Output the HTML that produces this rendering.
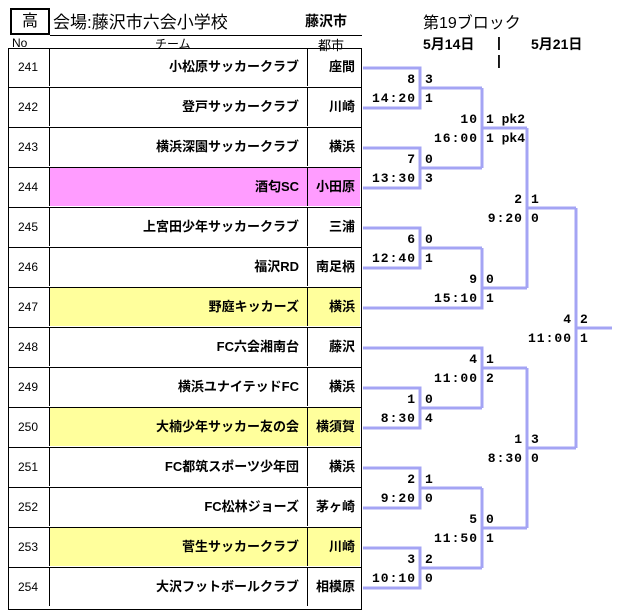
<!DOCTYPE html>
<html><head><meta charset="utf-8"><style>
body{margin:0;width:619px;height:613px;background:#fff;position:relative;overflow:hidden;font-family:"Liberation Sans","Noto Sans CJK JP",sans-serif;}
.a{position:absolute;white-space:nowrap;}
.r{position:absolute;left:8px;width:354px;height:40px;border-bottom:1.5px solid #000;box-sizing:border-box;}
.r div{position:absolute;top:0;height:38px;line-height:38px;font-size:13px;}
.n{left:0;width:40px;text-align:center;font-size:12px!important;}
.t{left:41px;text-align:right;padding-right:8px;font-weight:bold;border-left:1.5px solid #000;border-right:1.5px solid #000;box-sizing:border-box;width:259px;}
.c{left:300px;width:52px;text-align:right;padding-right:5px;font-weight:bold;box-sizing:border-box;}
.pk{background:#ff9cff}.yl{background:#ffff9c}
.l{font-family:"Liberation Mono","Noto Sans CJK JP",monospace;font-weight:bold;font-size:13px;letter-spacing:1px;}
</style></head><body>
<div class="a" style="left:10px;top:8px;width:36px;height:23px;border:2px solid #000;text-align:center;font-size:16px;line-height:23px;">高</div>
<div class="a" style="left:53px;top:8px;font-size:17px;">会場:藤沢市六会小学校</div>
<div class="a" style="left:305px;top:11px;font-size:14px;font-weight:bold;">藤沢市</div>
<div class="a" style="left:50px;top:35px;width:312px;border-top:1.5px solid #000;"></div>
<div class="a" style="left:423px;top:9px;font-size:16px;">第19ブロック</div>
<div class="a" style="left:12px;top:36px;font-size:12px;">No</div>
<div class="a" style="left:155px;top:35px;font-size:12px;">チーム</div>
<div class="a" style="left:318px;top:35px;font-size:13px;">都市</div>
<div class="a" style="left:423px;top:34px;font-size:14px;font-weight:bold;">5月14日</div>
<div class="a" style="left:497px;top:34px;font-size:14px;font-weight:bold;">|</div>
<div class="a" style="left:531px;top:34px;font-size:14px;font-weight:bold;">5月21日</div>
<div class="a" style="left:497px;top:52px;font-size:14px;font-weight:bold;">|</div>
<div class="r" style="top:48px"><div class="n">241</div><div class="t">小松原サッカークラブ</div><div class="c">座間</div></div>
<div class="r" style="top:88px"><div class="n">242</div><div class="t">登戸サッカークラブ</div><div class="c">川崎</div></div>
<div class="r" style="top:128px"><div class="n">243</div><div class="t">横浜深園サッカークラブ</div><div class="c">横浜</div></div>
<div class="r" style="top:168px"><div class="n">244</div><div class="t pk">酒匂SC</div><div class="c pk">小田原</div></div>
<div class="r" style="top:208px"><div class="n">245</div><div class="t">上宮田少年サッカークラブ</div><div class="c">三浦</div></div>
<div class="r" style="top:248px"><div class="n">246</div><div class="t">福沢RD</div><div class="c">南足柄</div></div>
<div class="r" style="top:288px"><div class="n">247</div><div class="t yl">野庭キッカーズ</div><div class="c yl">横浜</div></div>
<div class="r" style="top:328px"><div class="n">248</div><div class="t">FC六会湘南台</div><div class="c">藤沢</div></div>
<div class="r" style="top:368px"><div class="n">249</div><div class="t">横浜ユナイテッドFC</div><div class="c">横浜</div></div>
<div class="r" style="top:408px"><div class="n">250</div><div class="t yl">大楠少年サッカー友の会</div><div class="c yl">横須賀</div></div>
<div class="r" style="top:448px"><div class="n">251</div><div class="t">FC都筑スポーツ少年団</div><div class="c">横浜</div></div>
<div class="r" style="top:488px"><div class="n">252</div><div class="t">FC松林ジョーズ</div><div class="c">茅ヶ崎</div></div>
<div class="r" style="top:528px"><div class="n">253</div><div class="t yl">菅生サッカークラブ</div><div class="c yl">川崎</div></div>
<div class="r" style="top:568px;border-bottom:none"><div class="n">254</div><div class="t">大沢フットボールクラブ</div><div class="c">相模原</div></div>
<div class="a" style="left:8px;top:48px;width:354px;height:562px;border:1.5px solid #000;box-sizing:border-box;"></div>
<svg class="a" style="left:0;top:0" width="619" height="613">
<g fill="none" stroke="#a4a4f4" stroke-width="3">
<polyline points="363,68 420,68 420,108 363,108"/><line x1="420" y1="88" x2="482" y2="88"/>
<polyline points="363,148 420,148 420,188 363,188"/><line x1="420" y1="168" x2="482" y2="168"/>
<polyline points="482,88 482,168"/><line x1="482" y1="128" x2="527" y2="128"/>
<polyline points="363,228 420,228 420,268 363,268"/><line x1="420" y1="248" x2="482" y2="248"/>
<polyline points="363,308 482,308 482,248"/><line x1="482" y1="288" x2="527" y2="288"/>
<polyline points="527,128 527,288"/><line x1="527" y1="208" x2="576" y2="208"/>
<polyline points="363,348 482,348 482,408"/>
<polyline points="363,388 420,388 420,428 363,428"/><line x1="420" y1="408" x2="482" y2="408"/><line x1="482" y1="368" x2="527" y2="368"/>
<polyline points="363,468 420,468 420,508 363,508"/><line x1="420" y1="488" x2="482" y2="488"/>
<polyline points="363,548 420,548 420,588 363,588"/><line x1="420" y1="568" x2="482" y2="568"/>
<polyline points="482,488 482,568"/><line x1="482" y1="528" x2="527" y2="528"/>
<polyline points="527,368 527,528"/><line x1="527" y1="448" x2="576" y2="448"/>
<polyline points="576,208 576,448"/><line x1="576" y1="328" x2="612" y2="328"/>
</g></svg>
<div class="a l" style="right:203px;top:72px">8</div><div class="a l" style="left:425px;top:72px">3</div>
<div class="a l" style="right:203px;top:91px">14:20</div><div class="a l" style="left:425px;top:91px">1</div>
<div class="a l" style="right:203px;top:152px">7</div><div class="a l" style="left:425px;top:152px">0</div>
<div class="a l" style="right:203px;top:171px">13:30</div><div class="a l" style="left:425px;top:171px">3</div>
<div class="a l" style="right:203px;top:232px">6</div><div class="a l" style="left:425px;top:232px">0</div>
<div class="a l" style="right:203px;top:251px">12:40</div><div class="a l" style="left:425px;top:251px">1</div>
<div class="a l" style="right:203px;top:392px">1</div><div class="a l" style="left:425px;top:392px">0</div>
<div class="a l" style="right:203px;top:411px">8:30</div><div class="a l" style="left:425px;top:411px">4</div>
<div class="a l" style="right:203px;top:472px">2</div><div class="a l" style="left:425px;top:472px">1</div>
<div class="a l" style="right:203px;top:491px">9:20</div><div class="a l" style="left:425px;top:491px">0</div>
<div class="a l" style="right:203px;top:552px">3</div><div class="a l" style="left:425px;top:552px">2</div>
<div class="a l" style="right:203px;top:571px">10:10</div><div class="a l" style="left:425px;top:571px">0</div>
<div class="a l" style="right:141px;top:112px">10</div><div class="a l" style="left:486px;top:112px;letter-spacing:0">1 pk2</div>
<div class="a l" style="right:141px;top:131px">16:00</div><div class="a l" style="left:486px;top:131px;letter-spacing:0">1 pk4</div>
<div class="a l" style="right:141px;top:272px">9</div><div class="a l" style="left:486px;top:272px">0</div>
<div class="a l" style="right:141px;top:291px">15:10</div><div class="a l" style="left:486px;top:291px">1</div>
<div class="a l" style="right:141px;top:352px">4</div><div class="a l" style="left:486px;top:352px">1</div>
<div class="a l" style="right:141px;top:371px">11:00</div><div class="a l" style="left:486px;top:371px">2</div>
<div class="a l" style="right:141px;top:512px">5</div><div class="a l" style="left:486px;top:512px">0</div>
<div class="a l" style="right:141px;top:531px">11:50</div><div class="a l" style="left:486px;top:531px">1</div>
<div class="a l" style="right:96px;top:192px">2</div><div class="a l" style="left:531px;top:192px">1</div>
<div class="a l" style="right:96px;top:211px">9:20</div><div class="a l" style="left:531px;top:211px">0</div>
<div class="a l" style="right:96px;top:432px">1</div><div class="a l" style="left:531px;top:432px">3</div>
<div class="a l" style="right:96px;top:451px">8:30</div><div class="a l" style="left:531px;top:451px">0</div>
<div class="a l" style="right:47px;top:312px">4</div><div class="a l" style="left:580px;top:312px">2</div>
<div class="a l" style="right:47px;top:331px">11:00</div><div class="a l" style="left:580px;top:331px">1</div>
</body></html>
